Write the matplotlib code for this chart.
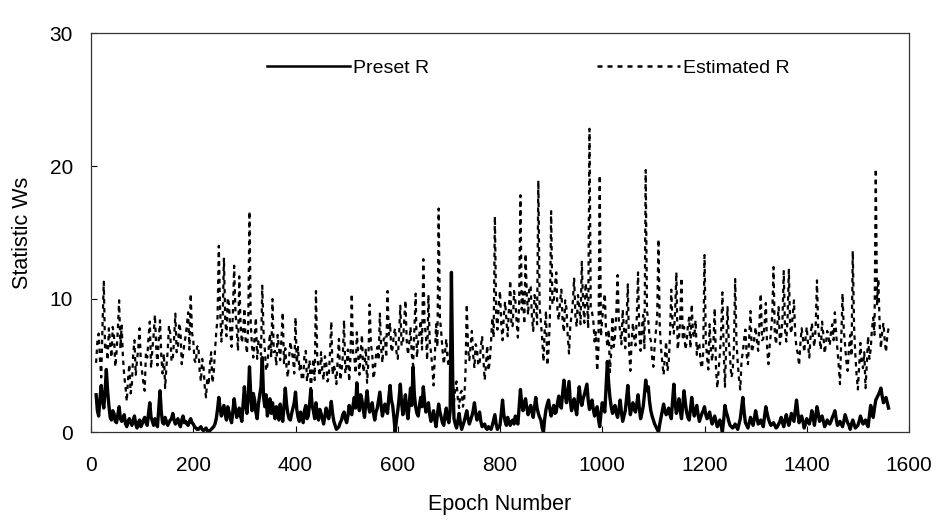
import numpy as np
import matplotlib
matplotlib.use("Agg")
import matplotlib.pyplot as plt

plt.rcParams['font.family'] = ['Liberation Sans', 'DejaVu Sans']

# Estimated R (dashed) values read at epochs 10, 15, 20, ... 1560
estimated_r = [
    5.2, 7.4, 4.1, 11.3, 6.5, 7.8, 5.6, 7.2, 6.0, 9.9,
    8.0, 4.2, 2.3, 5.1, 3.6, 6.9, 5.4, 7.8, 4.5, 3.1,
    5.6, 8.3, 6.2, 8.8, 5.0, 8.4, 4.4, 3.3, 6.1, 7.4,
    5.5, 8.9, 6.3, 7.6, 5.8, 7.2, 9.0, 10.4, 6.9, 5.2,
    6.5, 3.8, 4.9, 2.6, 3.5, 6.0, 4.4, 7.5, 14.0, 6.8,
    13.1, 7.2, 9.6, 6.4, 12.5, 7.8, 11.7, 6.7, 9.3, 5.9,
    16.6, 6.4, 7.2, 5.5, 6.9, 11.0, 6.2, 5.0, 7.4, 10.0,
    6.1, 7.3, 5.4, 9.0, 6.3, 4.1, 6.8, 5.5, 8.6, 6.4,
    5.2, 4.0, 6.1, 4.6, 3.2, 5.5, 10.6, 4.8, 6.0, 3.9,
    5.3, 4.1, 8.3, 5.0, 3.6, 7.0, 4.5, 8.4, 5.1, 3.8,
    10.4, 5.6, 7.5, 4.3, 7.3, 5.0, 3.7, 9.6, 5.9, 4.6,
    6.4, 8.9, 5.2, 7.1, 10.6, 8.2, 6.3, 7.8, 5.5, 9.5,
    6.6, 9.9, 5.8, 7.9, 5.0, 10.4, 6.9, 8.4, 13.0, 7.3,
    10.3, 6.0, 3.5, 8.1, 16.8, 7.5, 5.1, 7.0, 4.9, 3.9,
    2.2, 3.8, 1.8, 3.1, 2.4, 9.6, 5.4, 7.6, 4.8, 6.3,
    5.1, 7.2, 3.9, 6.5, 5.3, 8.6, 16.2, 7.7, 10.6, 6.9,
    9.8, 7.2, 11.4, 8.0, 9.9, 7.1, 17.8, 10.5, 13.4, 8.8,
    10.9, 7.6, 9.7, 18.9, 8.3, 5.3, 9.1, 6.2, 16.6, 9.8,
    12.0, 8.4, 10.7, 7.5, 9.3, 5.9, 8.8, 11.6, 7.9, 9.5,
    12.8, 8.2, 10.1, 22.8, 9.0, 6.8, 4.6, 19.3, 8.5, 10.4,
    6.4, 4.5, 8.7, 7.2, 11.8, 7.6, 9.2, 6.3, 11.1, 4.6,
    8.2, 6.5, 12.0, 6.1, 8.8, 19.7, 8.4, 6.9, 4.9, 7.6,
    14.5, 6.3, 4.3, 6.8, 5.2, 10.7, 7.4, 12.0, 7.0, 11.6,
    7.9, 6.7, 8.6, 9.6, 7.1, 5.8, 6.6, 4.8, 13.3, 5.6,
    8.1, 5.3, 9.3, 3.3, 5.9, 10.5, 3.4, 9.4, 5.6, 4.5,
    11.5, 5.2, 3.2, 6.0, 7.7, 5.1, 9.1, 6.4, 7.9, 6.1,
    10.4, 7.0, 9.7, 5.1, 7.5, 12.4, 6.6, 9.4, 7.2, 12.1,
    6.8, 12.2, 7.4, 9.9, 6.3, 5.0, 7.8, 6.0, 7.9, 5.6,
    8.2, 6.4, 11.4, 7.0, 8.3, 5.9, 7.6, 6.5, 8.1, 9.0,
    6.2, 3.6, 10.4, 6.5, 4.6, 7.3, 13.6, 5.8, 3.2, 6.7,
    4.8, 3.3, 7.2, 6.2, 8.6, 19.8, 11.5, 6.3, 8.2, 6.0,
    7.8,
]

# Estimated R values read at the in-between epochs 12.5, 17.5, ... 1557.5
estimated_r_half = [
    6.8, 5.5, 8.0, 6.2, 5.4, 6.6, 7.9, 4.9, 7.7, 6.3,
    5.6, 3.4, 4.0, 2.9, 5.8, 4.3, 6.3, 5.2, 3.7, 6.0,
    7.1, 4.8, 7.3, 6.4, 7.0, 5.7, 5.9, 4.9, 8.0, 5.3,
    7.0, 6.0, 8.2, 5.1, 6.6, 8.0, 6.2, 7.5, 5.4, 6.4,
    4.6, 5.5, 3.4, 4.1, 5.0, 3.7, 6.1, 8.6, 9.2, 8.4,
    8.5, 10.1, 7.5, 8.9, 9.0, 6.1, 8.2, 7.4, 6.8, 8.0,
    8.1, 5.6, 8.6, 6.8, 5.8, 7.5, 4.6, 6.3, 5.6, 6.0,
    5.0, 6.4, 7.0, 5.1, 4.8, 5.6, 6.1, 4.4, 5.2, 4.7,
    3.9, 5.8, 3.8, 5.4, 4.5, 3.9, 5.6, 4.2, 4.5, 5.7,
    3.8, 6.0, 4.3, 4.6, 5.5, 3.9, 5.7, 4.4, 6.2, 5.6,
    6.0, 4.4, 5.9, 6.1, 4.5, 6.3, 5.2, 6.6, 4.0, 5.8,
    5.4, 6.3, 7.0, 5.6, 7.3, 6.0, 7.4, 6.0, 7.2, 6.5,
    8.3, 6.9, 6.7, 5.8, 7.6, 5.6, 7.4, 6.2, 8.1, 5.4,
    6.8, 4.9, 5.7, 6.4, 8.6, 6.2, 6.0, 5.4, 6.3, 2.9,
    3.3, 2.5, 2.9, 1.9, 4.5, 6.2, 6.5, 5.8, 6.6, 5.0,
    6.4, 5.5, 5.0, 4.6, 6.8, 7.1, 8.9, 9.6, 8.1, 8.8,
    8.4, 9.3, 7.9, 10.6, 8.3, 9.8, 9.2, 8.1, 10.2, 11.0,
    8.6, 10.3, 8.1, 9.4, 7.0, 7.7, 5.0, 8.4, 9.6, 11.0,
    9.0, 9.8, 8.3, 9.9, 7.2, 8.0, 9.8, 8.7, 10.3, 8.1,
    9.7, 11.2, 7.8, 9.3, 8.4, 7.5, 6.1, 7.2, 9.6, 7.4,
    7.7, 6.0, 6.4, 9.0, 8.3, 6.6, 7.8, 8.4, 6.2, 6.9,
    7.1, 8.6, 7.4, 7.8, 6.3, 9.1, 7.2, 5.6, 6.5, 8.8,
    7.9, 5.2, 5.7, 4.6, 7.3, 8.1, 9.0, 6.2, 8.5, 6.9,
    6.2, 8.0, 6.3, 7.4, 8.4, 6.7, 5.2, 6.0, 7.0, 4.7,
    6.2, 6.8, 4.8, 4.6, 7.4, 6.2, 6.6, 6.8, 4.1, 6.4,
    6.8, 4.0, 5.4, 7.0, 5.8, 7.2, 6.0, 7.1, 6.8, 8.3,
    6.9, 8.2, 6.3, 6.5, 8.8, 7.4, 8.1, 6.6, 8.4, 7.7,
    8.6, 7.9, 8.8, 7.3, 5.9, 6.6, 7.1, 7.0, 6.6, 7.2,
    7.0, 8.0, 7.6, 6.2, 7.3, 6.6, 7.2, 7.6, 6.9, 7.4,
    5.0, 6.9, 7.6, 5.3, 6.3, 5.7, 8.0, 4.3, 5.0, 5.2,
    6.0, 5.1, 5.5, 7.7, 7.3, 9.6, 8.2, 7.5, 6.9, 7.2,
]

# Preset R (solid) values read at epochs 10, 15, 20, ... 1560
preset_r = [
    2.8, 1.2, 3.5, 1.8, 4.7, 2.0, 0.9, 1.4, 0.7, 1.9,
    0.8, 1.3, 0.4, 1.0, 0.5, 1.2, 0.3, 0.9, 0.6, 1.1,
    0.5, 2.2, 0.8, 1.0, 0.4, 3.1, 0.7, 1.1, 0.5, 0.9,
    1.4, 0.6, 1.0, 0.4, 1.2, 0.8, 0.5, 1.0, 0.6, 0.3,
    0.2, 0.4, 0.1, 0.3, 0.0, 0.2, 0.4, 1.0, 2.6, 1.2,
    2.0, 0.9, 1.5, 0.7, 2.5, 1.1, 1.8, 0.8, 3.4, 1.4,
    4.9, 1.6, 2.4, 1.0, 2.8, 5.6, 1.9, 1.2, 2.5, 2.2,
    1.0, 1.6, 2.1, 0.8, 3.3, 1.4, 0.9, 1.8, 3.0, 1.1,
    1.5, 0.7, 2.0, 1.2, 3.2, 1.6, 2.2, 0.9, 1.4, 0.6,
    1.8, 1.0, 2.3, 0.8, 0.2, 0.4, 0.9, 1.5, 0.7, 2.0,
    1.3, 2.6, 3.7, 1.6, 2.4, 1.1, 3.1, 1.5, 2.2, 0.9,
    1.8, 3.0, 1.2, 2.1, 1.4, 3.5, 2.0, 0.0, 1.6, 3.6,
    1.3, 2.8, 1.0, 3.3, 4.9, 1.9, 1.2, 2.6, 3.4, 1.5,
    2.2, 0.8, 1.6, 0.4, 2.1, 1.1, 0.5, 1.8, 0.7, 12.0,
    1.0, 0.3, 1.4, 0.2, 0.8, 1.6, 0.6, 1.2, 2.2, 0.9,
    1.5, 0.4, 0.6, 0.2, 0.3, 0.5, 1.3, 0.2, 0.5, 2.4,
    0.8, 1.1, 0.5, 0.9, 1.2, 0.6, 3.2, 1.6, 2.5, 1.3,
    2.0, 1.1, 2.6, 1.4, 0.9, 0.0, 1.7, 2.4, 1.2, 2.0,
    1.5, 2.7, 1.8, 3.9, 2.2, 3.8, 1.6, 2.5, 1.3, 3.4,
    2.0, 2.8, 3.6, 1.7, 2.4, 1.2, 1.9, 0.4, 2.2, 1.5,
    5.3, 2.6, 1.4, 2.0, 1.1, 2.4, 0.8, 1.6, 3.5, 1.3,
    2.2, 1.5, 2.8, 1.0, 1.9, 3.9, 3.4, 1.6, 0.9, 0.4,
    0.0, 1.1, 2.1, 1.3, 1.8, 1.0, 3.6, 1.4, 2.5, 1.0,
    3.1, 1.5, 0.9, 2.6, 1.2, 2.0, 0.8, 1.4, 1.9, 1.0,
    1.5, 0.6, 1.2, 0.4, 0.9, 0.0, 2.0, 1.2, 0.5, 0.3,
    0.6, 0.2, 1.0, 2.6, 0.7, 0.3, 1.1, 0.5, 1.6, 0.6,
    0.9, 0.4, 1.9, 1.0, 0.5, 0.7, 0.3, 0.6, 1.1, 0.4,
    1.3, 0.5, 1.4, 0.8, 2.4, 0.7, 1.2, 0.3, 1.0, 0.6,
    1.6, 0.5, 1.9, 0.8, 1.2, 0.4, 0.9, 0.6, 1.1, 1.6,
    0.5, 0.8, 0.4, 1.3, 0.7, 0.2, 0.9, 0.3, 0.5, 1.2,
    0.6, 0.9, 0.4, 2.0, 1.1, 2.4, 2.8, 3.3, 2.2, 2.6,
    1.8,
]

# Preset R values read at the in-between epochs 12.5, 17.5, ... 1557.5
preset_r_half = [
    1.6, 2.5, 2.4, 3.0, 3.1, 1.1, 1.6, 0.8, 1.3, 1.0,
    1.1, 0.6, 0.8, 0.7, 0.9, 0.6, 0.7, 0.4, 0.9, 0.7,
    1.4, 1.1, 0.5, 0.6, 1.8, 1.5, 0.6, 0.8, 0.7, 1.0,
    0.9, 0.8, 0.6, 0.9, 0.7, 0.6, 0.8, 0.7, 0.4, 0.2,
    0.3, 0.2, 0.2, 0.1, 0.1, 0.3, 0.6, 1.7, 1.8, 1.6,
    1.3, 1.9, 1.0, 1.6, 1.7, 1.4, 1.2, 2.1, 2.0, 2.6,
    2.7, 2.9, 1.5, 2.1, 3.4, 2.6, 2.8, 1.9, 1.4, 1.5,
    1.9, 0.9, 1.5, 1.9, 2.1, 1.0, 1.4, 2.2, 1.7, 0.8,
    1.1, 1.6, 1.0, 2.1, 2.0, 1.0, 1.3, 1.7, 1.0, 1.2,
    1.3, 1.6, 1.4, 0.5, 0.3, 0.7, 1.3, 1.0, 1.2, 1.5,
    2.0, 1.8, 2.3, 2.8, 1.7, 2.2, 2.0, 1.8, 1.4, 1.5,
    2.4, 2.0, 1.7, 1.6, 2.6, 2.4, 1.1, 0.9, 2.5, 2.2,
    2.1, 1.6, 2.2, 2.0, 2.8, 1.4, 2.0, 1.9, 2.3, 1.8,
    1.3, 1.2, 0.9, 1.3, 1.5, 0.7, 1.3, 1.0, 1.6, 4.0,
    0.6, 0.8, 0.7, 0.5, 1.2, 1.0, 0.9, 1.6, 1.4, 1.1,
    0.8, 0.5, 0.3, 0.4, 0.2, 0.9, 0.6, 0.4, 1.4, 1.3,
    0.5, 0.7, 0.8, 0.6, 0.8, 1.9, 2.1, 2.2, 1.8, 1.7,
    1.5, 1.9, 1.8, 1.1, 0.3, 1.0, 2.1, 1.7, 1.6, 1.4,
    2.2, 2.0, 2.9, 2.8, 3.0, 2.3, 2.1, 1.8, 2.4, 2.5,
    2.5, 3.2, 2.4, 2.0, 1.7, 1.6, 1.0, 1.4, 1.8, 3.4,
    3.7, 1.9, 1.8, 1.4, 1.7, 1.5, 1.2, 2.5, 2.2, 1.8,
    1.7, 2.1, 1.8, 1.4, 2.8, 3.1, 2.3, 1.2, 0.6, 0.2,
    0.6, 1.6, 1.6, 1.5, 1.3, 2.3, 2.2, 1.9, 1.6, 2.0,
    2.2, 1.1, 1.7, 1.8, 1.6, 1.3, 1.1, 1.6, 1.3, 1.2,
    1.0, 0.9, 0.8, 0.6, 0.5, 0.9, 1.5, 0.8, 0.4, 0.4,
    0.4, 0.6, 1.8, 1.5, 0.5, 0.7, 0.8, 1.0, 1.1, 0.7,
    0.6, 1.2, 1.4, 0.7, 0.6, 0.5, 0.4, 0.8, 0.7, 0.9,
    0.8, 0.9, 1.1, 1.6, 1.5, 1.0, 0.8, 0.6, 0.8, 1.0,
    1.1, 1.2, 1.4, 1.0, 0.8, 0.6, 0.7, 0.8, 1.3, 1.0,
    0.6, 0.6, 0.8, 1.0, 0.5, 0.6, 0.6, 0.4, 0.8, 0.9,
    0.7, 0.6, 1.2, 1.6, 1.8, 2.6, 3.0, 2.7, 2.4, 2.2,
]

first_epoch = 10.0
half_step = 2.5

x_ticks = [0, 200, 400, 600, 800, 1000, 1200, 1400, 1600]
y_ticks = [0, 10, 20, 30]


def interleave(main, half):
    out = np.empty(len(main) + len(half))
    out[0::2] = main
    out[1::2] = half
    return out


est_all = interleave(estimated_r, estimated_r_half)
pre_all = interleave(preset_r, preset_r_half)
epochs = first_epoch + half_step * np.arange(len(est_all))

fig = plt.figure(figsize=(9.37, 5.21), dpi=100)
ax = fig.add_axes([91 / 937, 1 - 432 / 521, 818 / 937, 399 / 521])

ax.plot(epochs, pre_all, color='black', lw=2.4, label='Preset R')
ax.plot(epochs, est_all, color='black', lw=1.6, linestyle=(0, (2.0, 2.0)),
        label='Estimated R')

ax.set_xlim(0, 1600)
ax.set_ylim(0, 30)
ax.set_xticks(x_ticks)
ax.set_yticks(y_ticks)
ax.tick_params(axis='both', direction='in', length=4, width=0.8, labelsize=15)
ax.tick_params(axis='y', pad=13)
ax.tick_params(axis='x', pad=17)
for s in ax.spines.values():
    s.set_linewidth(0.9)
    s.set_color('#333333')

ax.set_xlabel('Epoch Number', fontsize=15.5, labelpad=14)
ax.set_ylabel('Statistic Ws', fontsize=15.5, labelpad=12)

leg = ax.legend(loc='center left', bbox_to_anchor=(0.215, 0.912), ncol=2,
                frameon=False, fontsize=14, handlelength=4.3, handletextpad=0.15,
                columnspacing=8.6, borderpad=0, borderaxespad=0)
for h in leg.get_lines():
    h.set_linewidth(1.8)

fig.savefig('out.png', dpi=100)
